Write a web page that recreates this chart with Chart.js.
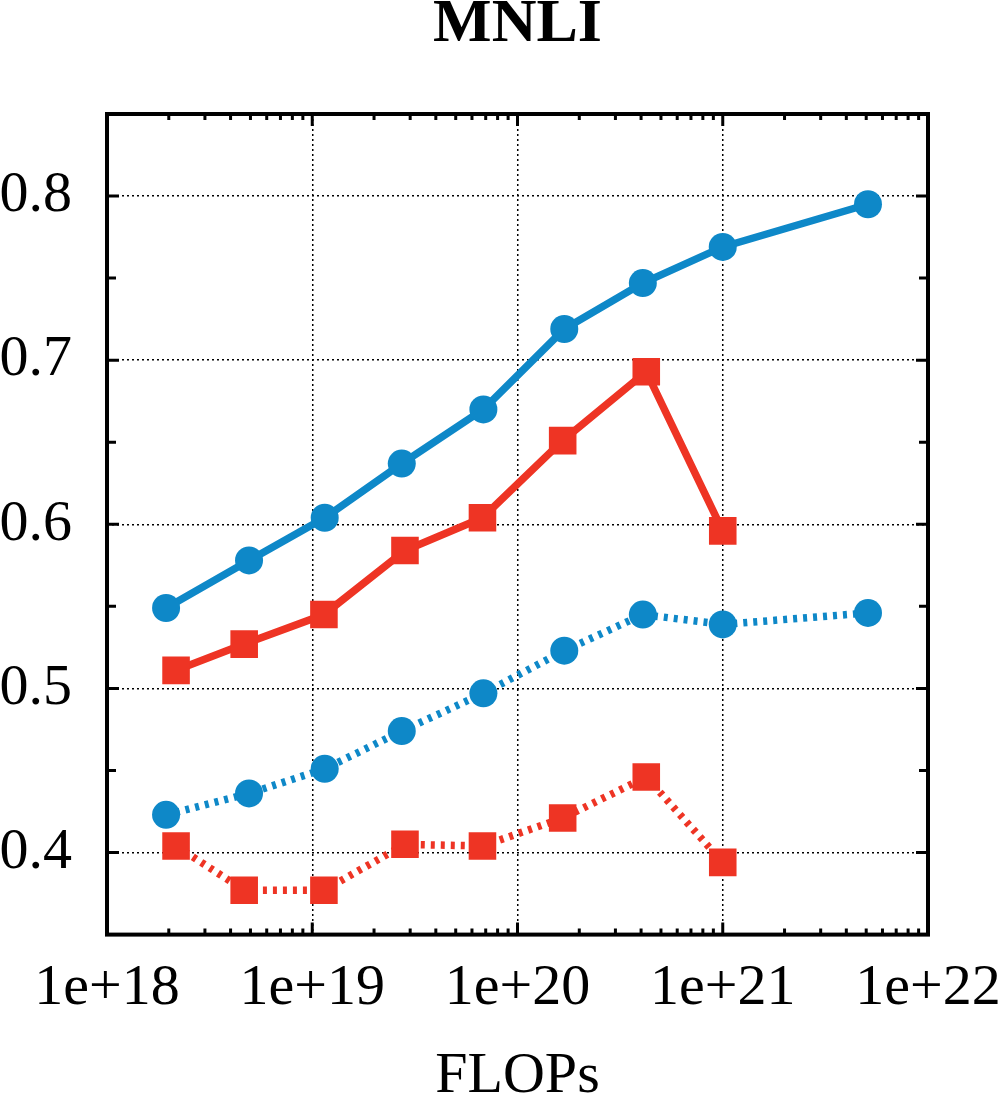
<!DOCTYPE html>
<html lang="en">
<head>
  <meta charset="UTF-8" />
  <title>MNLI</title>
  <style>
    body { margin: 0; padding: 0; background: #fff; }
    canvas { display: block; }
  </style>
</head>
<body>
  <canvas id="mnliChart" width="1006" height="1097"></canvas>

  <script src="https://cdn.jsdelivr.net/npm/chart.js"></script>
  <script>
    // FLOPs (x) for each series
    const blueFlops = [1.94e18, 4.92e18, 1.15e19, 2.73e19, 6.82e19, 1.69e20, 4.08e20, 1.0e21, 5.1e21];
    const redFlops = [2.17e18, 4.66e18, 1.14e19, 2.83e19, 6.75e19, 1.66e20, 4.24e20, 1.0e21];

    // accuracy values
    const blueSolid = [0.549, 0.578, 0.604, 0.637, 0.670, 0.719, 0.747, 0.769, 0.795];
    const redSolid = [0.511, 0.527, 0.545, 0.584, 0.604, 0.651, 0.693, 0.596];
    const blueDotted = [0.423, 0.436, 0.451, 0.474, 0.497, 0.523, 0.545, 0.539, 0.546];
    const redDotted = [0.404, 0.377, 0.377, 0.405, 0.404, 0.421, 0.446, 0.394];

    // axis ticks
    const xTickValues = [1e18, 1e19, 1e20, 1e21, 1e22];
    const yTickValues = [0.4, 0.5, 0.6, 0.7, 0.8];
    const yMinorTicks = [0.45, 0.55, 0.65, 0.75];
    const xMinorMantissas = [2, 3, 4, 5, 6, 7, 8, 9];

    const BLUE = "#0e88c8";
    const RED = "#ee3424";
    const FONT = "'Liberation Serif', 'DejaVu Serif', serif";

    function pts(xs, ys) {
      return ys.map((y, i) => ({ x: xs[i], y: y }));
    }

    function series(data, color, dotted, square) {
      return {
        data: data,
        borderColor: color,
        backgroundColor: color,
        borderWidth: 7.5,
        borderDash: dotted ? [4, 6] : [],
        borderCapStyle: "butt",
        tension: 0,
        pointStyle: square ? "rect" : "circle",
        pointRadius: square ? 19.5 : 14,
        pointBorderWidth: 0,
        pointBackgroundColor: color,
      };
    }

    // frame + inward ticks, like the gnuplot style of the original
    const framePlugin = {
      id: "frame",
      afterLayout(chart) {
        // centre the title over the plot area, not the whole canvas
        const t = chart.titleBlock, a = chart.chartArea;
        if (t) { t.left = a.left; t.right = a.right; t.width = a.right - a.left; }
      },
      afterDraw(chart) {
        const { ctx, chartArea: a, scales } = chart;
        const xs = scales.x, ys = scales.y;
        ctx.save();
        ctx.strokeStyle = "#000";
        ctx.lineCap = "butt";
        ctx.lineWidth = 3;
        ctx.beginPath();
        yTickValues.concat(yMinorTicks).forEach(v => {
          const py = ys.getPixelForValue(v);
          const len = yTickValues.includes(v) ? 12 : 9;
          ctx.moveTo(a.left, py); ctx.lineTo(a.left + len, py);
          ctx.moveTo(a.right, py); ctx.lineTo(a.right - len, py);
        });
        for (let e = 18; e < 22; e++) {
          const major = xs.getPixelForValue(Math.pow(10, e));
          ctx.moveTo(major, a.bottom); ctx.lineTo(major, a.bottom - 12);
          ctx.moveTo(major, a.top); ctx.lineTo(major, a.top + 12);
          xMinorMantissas.forEach(m => {
            const px = xs.getPixelForValue(m * Math.pow(10, e));
            ctx.moveTo(px, a.bottom); ctx.lineTo(px, a.bottom - 6);
            ctx.moveTo(px, a.top); ctx.lineTo(px, a.top + 6);
          });
        }
        ctx.stroke();
        ctx.lineWidth = 4;
        ctx.strokeRect(a.left, a.top, a.right - a.left, a.bottom - a.top);
        ctx.restore();
      }
    };

    const ctx = document.getElementById("mnliChart").getContext("2d");
    new Chart(ctx, {
      type: "line",
      data: {
        datasets: [
          series(pts(blueFlops, blueSolid), BLUE, false, false),
          series(pts(redFlops, redSolid), RED, false, true),
          series(pts(blueFlops, blueDotted), BLUE, true, false),
          series(pts(redFlops, redDotted), RED, true, true),
        ]
      },
      options: {
        responsive: false,
        animation: false,
        layout: { padding: { top: 0, right: 78, bottom: 0, left: 0 } },
        plugins: {
          legend: { display: false },
          tooltip: { enabled: false },
          title: {
            display: true,
            text: "MNLI",
            color: "#000",
            font: { family: FONT, size: 62, weight: "bold", lineHeight: 0.8 },
            padding: { top: 0, bottom: 64.4 }
          }
        },
        scales: {
          x: {
            type: "logarithmic",
            min: 1e18,
            max: 1e22,
            afterBuildTicks: s => { s.ticks = xTickValues.map(v => ({ value: v })); },
            afterFit: s => { s.height = 162.4; },
            grid: {
              drawTicks: false,
              lineWidth: 1.5,
              color: c => (c.tick && c.tick.value > 1e18 && c.tick.value < 1e22) ? "#000" : "rgba(0,0,0,0)"
            },
            border: { display: false, dash: [2, 3] },
            ticks: {
              padding: 5,
              color: "#000",
              maxRotation: 0,
              autoSkip: false,
              font: { family: FONT, size: 58, lineHeight: 1.68 },
              callback: v => "1e+" + Math.round(Math.log10(v))
            },
            title: {
              display: true,
              text: "FLOPs",
              color: "#000",
              font: { family: FONT, size: 58, lineHeight: 0.7 },
              padding: { top: 0, bottom: 0 }
            }
          },
          y: {
            min: 0.35,
            max: 0.85,
            afterBuildTicks: s => { s.ticks = yTickValues.map(v => ({ value: v })); },
            afterFit: s => { s.width = 107; },
            grid: { drawTicks: false, lineWidth: 1.5, color: "#000" },
            border: { display: false, dash: [2, 3] },
            ticks: {
              padding: 35,
              color: "#000",
              font: { family: FONT, size: 58 },
              callback: v => v.toFixed(1)
            }
          }
        }
      },
      plugins: [framePlugin]
    });
  </script>
</body>
</html>
